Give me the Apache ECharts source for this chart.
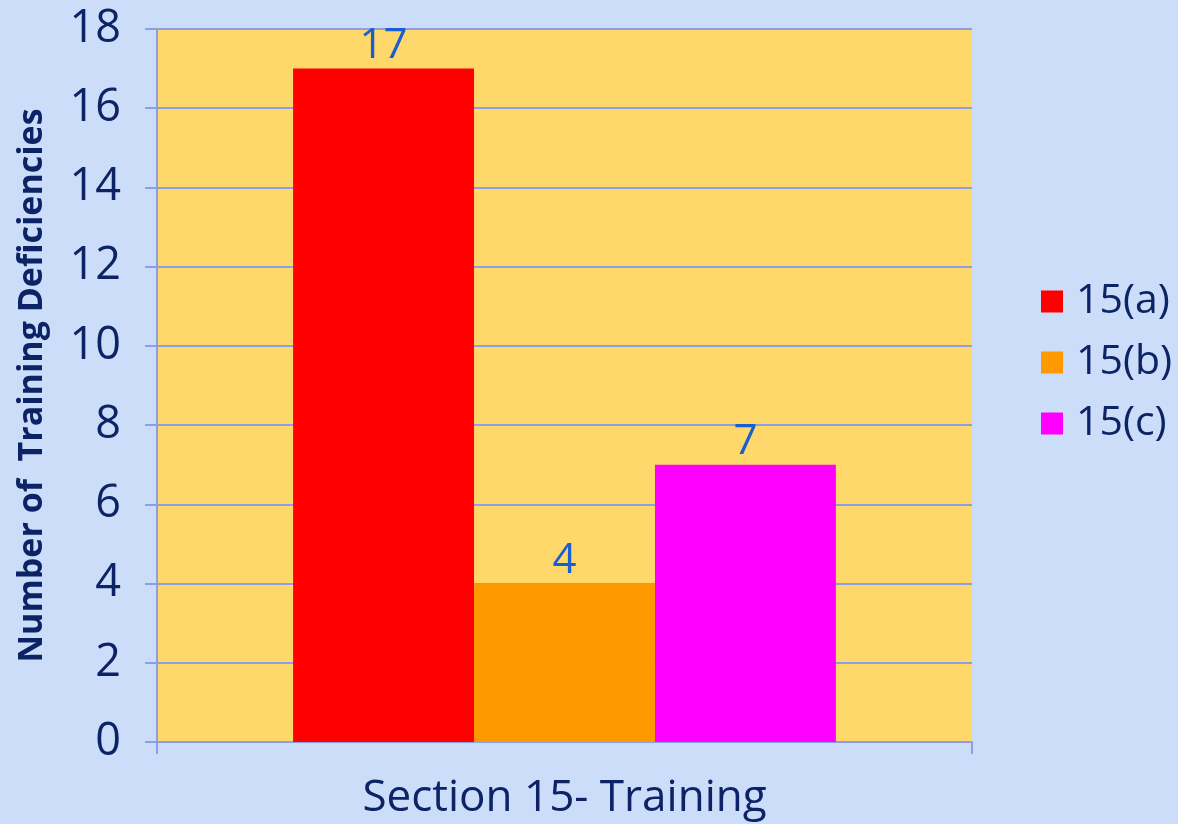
<!DOCTYPE html>
<html><head><meta charset="utf-8">
<script src="https://cdn.jsdelivr.net/npm/echarts@6/dist/echarts.min.js"></script>
<style>html,body{margin:0;padding:0;background:#ccddfa;}#c{width:1178px;height:824px;}</style>
</head><body><div id="c"></div>
<script>
var categories = ['Section 15- Training'];
var seriesNames = ['15(a)', '15(b)', '15(c)'];
var seriesValues = [[17], [4], [7]];
var seriesColors = ['#ff0000', '#ff9900', '#ff00ff'];
var yTicks = [0, 2, 4, 6, 8, 10, 12, 14, 16, 18];

var font = 'Open Sans';
var navy = '#0c2466';
var chart = echarts.init(document.getElementById('c'));
chart.setOption({
  backgroundColor: '#ccddfa',
  textStyle: {fontFamily: font},
  grid: {left: 157, right: 206, top: 29, bottom: 82, show: true, backgroundColor: '#fed86a', borderWidth: 0},
  legend: {
    orient: 'vertical', left: 1036, top: 276, itemWidth: 22, itemHeight: 22, itemGap: 20,
    icon: 'rect',
    textStyle: {fontSize: 41, color: navy, fontFamily: font, padding: [0, 0, 0, 8]},
    data: seriesNames
  },
  xAxis: {
    type: 'category', data: categories,
    axisLine: {lineStyle: {color: '#8e9ee6', width: 2}},
    axisTick: {show: true, length: 12, lineStyle: {color: '#8e9ee6', width: 2}},
    axisLabel: {fontSize: 44, color: navy, margin: 34, fontFamily: font}
  },
  yAxis: {
    type: 'value', min: 0, max: 18, interval: 2,
    name: 'Number of  Training Deficiencies', nameLocation: 'middle', nameGap: 108,
    nameTextStyle: {fontSize: 34, fontWeight: 'bold', color: navy, fontFamily: font},
    axisLine: {show: true, lineStyle: {color: '#8e9ee6', width: 2}},
    axisTick: {show: true, length: 12, lineStyle: {color: '#8e9ee6', width: 2}},
    splitLine: {lineStyle: {color: '#8e9ee6', width: 2}},
    axisLabel: {fontSize: 45, color: navy, margin: 36, fontFamily: font,
      formatter: function (v) { return yTicks.indexOf(v) >= 0 ? String(v) : ''; }}
  },
  series: seriesNames.map(function (n, i) {
    return {
      name: n, type: 'bar', data: seriesValues[i], barGap: '0%', barCategoryGap: '33.4%',
      itemStyle: {color: seriesColors[i]},
      label: {show: true, position: 'top', distance: 2, fontSize: 42, color: '#1a5fd0', fontFamily: font}
    };
  })
});
</script></body></html>
